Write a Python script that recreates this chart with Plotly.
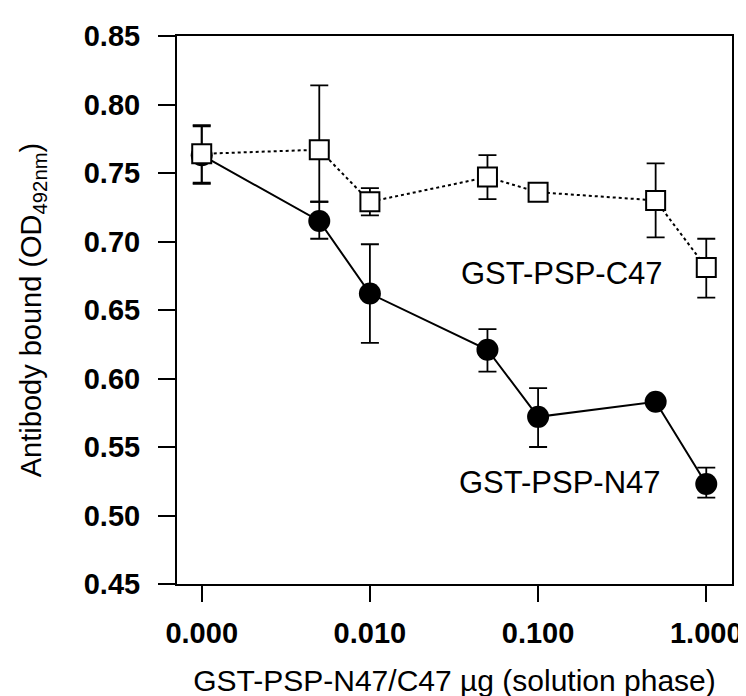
import plotly.graph_objects as go

# ---- data ----
doses = [0.0, 0.005, 0.01, 0.05, 0.1, 0.5, 1.0]
n47_values = [0.763, 0.715, 0.662, 0.621, 0.572, 0.583, 0.523]
n47_err_plus = [0.021, 0.014, 0.036, 0.015, 0.021, 0.0, 0.012]
n47_err_minus = [0.021, 0.013, 0.036, 0.016, 0.022, 0.0, 0.010]
c47_values = [0.764, 0.767, 0.729, 0.747, 0.736, 0.730, 0.681]
c47_err_plus = [0.021, 0.047, 0.010, 0.016, 0.003, 0.027, 0.021]
c47_err_minus = [0.021, 0.038, 0.010, 0.016, 0.003, 0.027, 0.022]
x_tick_values = [0.001, 0.01, 0.1, 1.0]
x_tick_labels = ["0.000", "0.010", "0.100", "1.000"]
series_labels = ["GST-PSP-N47", "GST-PSP-C47"]

# the chart places the zero dose at the 0.001 position of its log axis
x_plot = [0.001 if d == 0 else d for d in doses]

FONT = "Liberation Sans, Arial, Helvetica, sans-serif"

fig = go.Figure()

fig.add_trace(go.Scatter(
    x=x_plot, y=n47_values, mode="lines+markers", name=series_labels[0],
    line=dict(color="black", width=2),
    marker=dict(symbol="circle", size=22, color="black"),
    error_y=dict(type="data", symmetric=False, array=n47_err_plus,
                 arrayminus=n47_err_minus, color="black", thickness=1.8, width=9),
))
fig.add_trace(go.Scatter(
    x=x_plot, y=c47_values, mode="lines+markers", name=series_labels[1],
    line=dict(color="black", width=2, dash="dot"),
    marker=dict(symbol="square", size=19, color="white",
                line=dict(color="black", width=2)),
    error_y=dict(type="data", symmetric=False, array=c47_err_plus,
                 arrayminus=c47_err_minus, color="black", thickness=1.8, width=9),
))

fig.add_annotation(x=-0.859, y=0.677, xref="x", yref="y", text=series_labels[1],
                   showarrow=False, font=dict(family=FONT, size=31, color="black"))
fig.add_annotation(x=-0.871, y=0.5244, xref="x", yref="y", text=series_labels[0],
                   showarrow=False, font=dict(family=FONT, size=31, color="black"))

fig.update_layout(
    width=746, height=696,
    margin=dict(l=169, r=17, t=23, b=119),
    paper_bgcolor="white", plot_bgcolor="white",
    showlegend=False,
    font=dict(family=FONT, color="black"),
)
fig.update_xaxes(
    type="log", range=[-3.147, 0.153],
    tickvals=x_tick_values, ticktext=x_tick_labels,
    ticks="outside", ticklen=16, tickwidth=1.5, tickcolor="black",
    showline=True, mirror=True, linecolor="black", linewidth=2,
    showgrid=False, zeroline=False,
    tickfont=dict(family=FONT, size=29, color="black", weight="bold"),
    ticklabelstandoff=6,
    title=dict(text="GST-PSP-N47/C47 \u00b5g (solution phase)",
               font=dict(family=FONT, size=30, color="black"), standoff=22),
)
fig.update_yaxes(
    range=[0.45, 0.85], tick0=0.45, dtick=0.05, tickformat=".2f",
    ticks="outside", ticklen=17, tickwidth=1.5, tickcolor="black",
    showline=True, mirror=True, linecolor="black", linewidth=2,
    showgrid=False, zeroline=False,
    tickfont=dict(family=FONT, size=29, color="black", weight="bold"),
    ticklabelstandoff=12,
    title=dict(text="Antibody bound (OD<sub>492nm</sub>)",
               font=dict(family=FONT, size=29, color="black"), standoff=34),
)

fig.write_html("out.html")
